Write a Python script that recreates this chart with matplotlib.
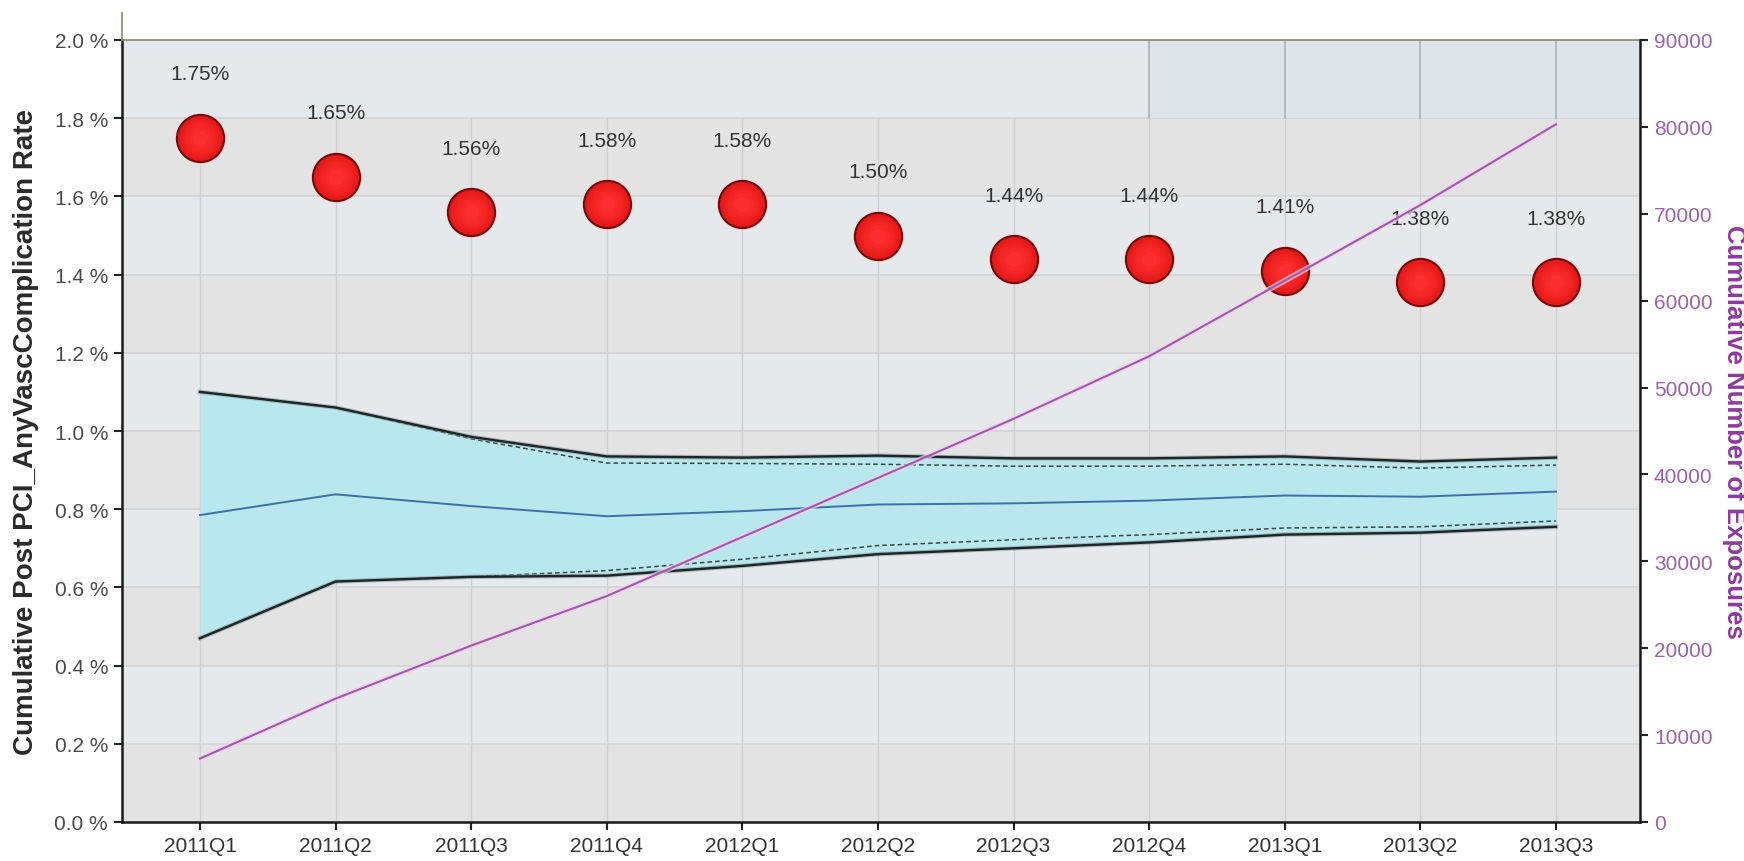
import matplotlib
matplotlib.use("Agg")
import matplotlib.pyplot as plt
import matplotlib.patheffects as pe
from matplotlib.lines import Line2D
import numpy as np

# Quarterly categories
quarters = ["2011Q1", "2011Q2", "2011Q3", "2011Q4", "2012Q1", "2012Q2",
            "2012Q3", "2012Q4", "2013Q1", "2013Q2", "2013Q3"]

# Observed cumulative complication rate (%)
rate = [1.75, 1.65, 1.56, 1.58, 1.58, 1.50, 1.44, 1.44, 1.41, 1.38, 1.38]

# Expected-rate band (%)
upper_outer = [1.10, 1.06, 0.985, 0.935, 0.932, 0.937, 0.930, 0.930, 0.935, 0.922, 0.932]
upper_inner = [1.10, 1.06, 0.980, 0.918, 0.917, 0.915, 0.910, 0.910, 0.915, 0.905, 0.913]
expected = [0.785, 0.838, 0.808, 0.782, 0.795, 0.812, 0.815, 0.822, 0.835, 0.832, 0.845]
lower_inner = [0.470, 0.615, 0.627, 0.643, 0.672, 0.707, 0.722, 0.735, 0.752, 0.755, 0.770]
lower_outer = [0.470, 0.615, 0.627, 0.630, 0.655, 0.685, 0.700, 0.715, 0.735, 0.740, 0.755]

# Cumulative number of exposures (right axis)
exposures = [7300, 14200, 20300, 26000, 32800, 39600, 46400, 53600, 62300, 71000, 80300]

y_ticks = [0.0, 0.2, 0.4, 0.6, 0.8, 1.0, 1.2, 1.4, 1.6, 1.8, 2.0]
y2_ticks = [0, 10000, 20000, 30000, 40000, 50000, 60000, 70000, 80000, 90000]

FONT = "Liberation Sans"
plt.rcParams["font.family"] = [FONT, "DejaVu Sans"]

fig = plt.figure(figsize=(17.44, 8.62), dpi=100)
fig.patch.set_facecolor("white")
ax = fig.add_axes([122 / 1744, 1 - 823 / 862, (1640 - 122) / 1744, (823 - 41) / 862])
x = np.arange(len(quarters))
ax.set_xlim(-0.575, 10.62)
ax.set_ylim(0, 2.0)

# Alternating horizontal background bands
ax.set_facecolor("#e4e4e5")
for i in range(10):
    col = "#e6e9ec" if i % 2 == 1 else "#e3e3e4"
    ax.axhspan(y_ticks[i], y_ticks[i + 1], color=col, zorder=0, lw=0)

# Shaded box in the upper right corner
ax.axvspan(7, 10.62, ymin=0.9, ymax=1.0, color="#dfe3ea", zorder=0.5, lw=0)
for xv in [7, 8, 9, 10]:
    ax.plot([xv, xv], [1.8, 2.0], color="#b0b0b0", lw=1.2, zorder=0.6)

# Grid
for yv in y_ticks[1:-1]:
    ax.axhline(yv, color="#d2d3d5", lw=1.2, zorder=0.4)
for xv in x:
    ax.plot([xv, xv], [0, 1.8], color="#cfd0d4", lw=1.0, zorder=0.4)

# Expected band
ax.fill_between(x, lower_outer, upper_outer, color="#b8e7ee", zorder=1, lw=0)
halo = [pe.Stroke(linewidth=3.2, foreground="#8c9a9c", alpha=0.6), pe.Normal()]
ax.plot(x, upper_outer, color="#1c2626", lw=1.7, zorder=3, path_effects=halo)
ax.plot(x, lower_outer, color="#1c2626", lw=1.7, zorder=3, path_effects=halo)
ax.plot(x, upper_inner, color="#3a4646", lw=1.1, ls=(0, (3, 2)), zorder=2.5)
ax.plot(x, lower_inner, color="#3a4646", lw=1.1, ls=(0, (3, 2)), zorder=2.5)
ax.plot(x, expected, color="#3d6fa8", lw=1.4, zorder=3)

# Observed rate markers: soft glow, dark rim and a gently shaded red body
ax.plot(x, rate, "o", ms=37, color="#ffd0d0", alpha=0.6, mec="none", zorder=4)
ax.plot(x, rate, "o", ms=34, mfc="#e41a1a", mec="#6e0c0c", mew=1.5, zorder=5)
for k, (ms, col) in enumerate([(29, "#ea1d1d"), (25, "#ef2121"), (21, "#f32525"),
                               (16, "#f72a2a"), (11, "#fb2f2f")]):
    ax.plot(x, rate, "o", ms=ms, color=col, mec="none", zorder=5.1 + k * 0.1)
for xi, r in zip(x, rate):
    ax.annotate(f"{r:.2f}%", (xi, r), xytext=(0, 46), textcoords="offset points",
                ha="center", va="center", fontsize=15, color="#333333", zorder=8)

# Axes styling
ax.set_yticks(y_ticks)
ax.set_yticklabels([f"{v:.1f} %" for v in y_ticks], fontsize=15, color="#4a4a4a")
ax.set_xticks(x)
ax.set_xticklabels(quarters, fontsize=15, color="#333333")
ax.tick_params(axis="both", direction="out", length=6, width=1.5, color="#222222", pad=4)
for s in ["left", "bottom"]:
    ax.spines[s].set_color("#1a1a1a")
    ax.spines[s].set_linewidth(1.8)
ax.spines["top"].set_color("#8b8670")
ax.spines["top"].set_linewidth(1.2)
ax.spines["right"].set_visible(False)
ax.set_ylabel("Cumulative Post PCI_AnyVascComplication Rate", fontsize=20,
              fontweight="bold", color="#2a2a2a", labelpad=11)

# Right axis: cumulative exposures
ax2 = ax.twinx()
ax2.set_ylim(0, 90000)
ax2.plot(x, exposures, color="#9e5aa8", lw=1.5, zorder=5,
         path_effects=[pe.Stroke(linewidth=4, foreground="#f0d2ef", alpha=0.7), pe.Normal()])
ax2.set_yticks(y2_ticks)
ax2.set_yticklabels([str(v) for v in y2_ticks], fontsize=15, color="#9c62a8")
ax2.tick_params(axis="y", direction="out", length=6, width=1.5, color="#222222", pad=4)
for s in ["left", "bottom", "top"]:
    ax2.spines[s].set_visible(False)
ax2.spines["right"].set_color("#1a1a1a")
ax2.spines["right"].set_linewidth(1.8)
ax2.set_ylabel("Cumulative Number of Exposures", fontsize=18.5, fontweight="bold",
               color="#8e3a9e", rotation=270, labelpad=24)

# Left axis line continues a little above the plot area
fig.add_artist(Line2D([122 / 1744, 122 / 1744], [1 - 41 / 862, 1 - 14 / 862],
                      transform=fig.transFigure, color="#8b8670", lw=1.2))

fig.savefig("out.png", dpi=100, facecolor="white")
